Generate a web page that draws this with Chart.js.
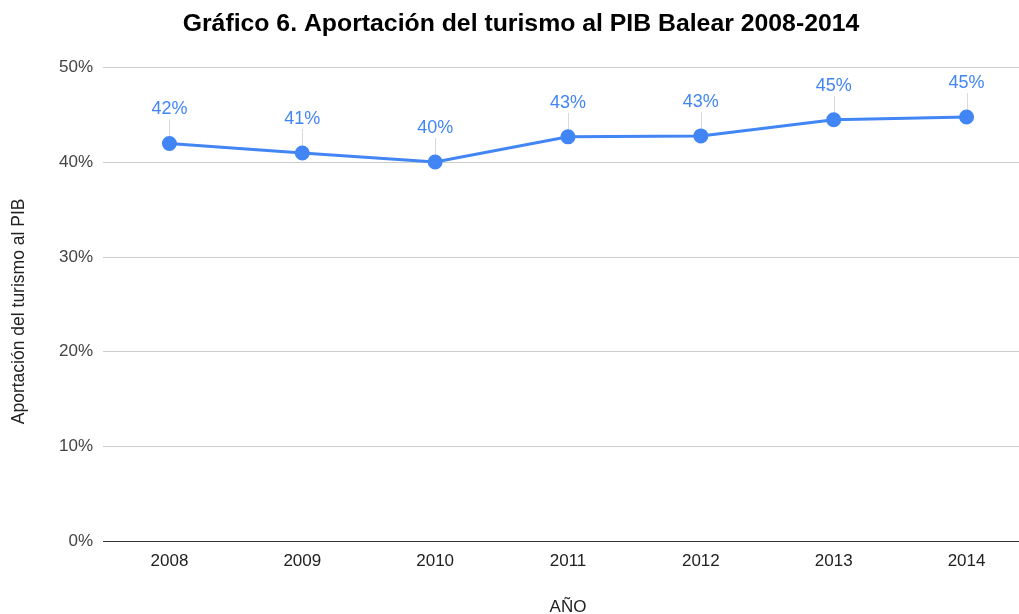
<!DOCTYPE html>
<html>
<head>
<meta charset="utf-8">
<script src="https://cdn.jsdelivr.net/npm/chart.js@4"></script>
<style>
html,body{margin:0;padding:0;overflow:hidden;background:#fff;}
#wrap{width:1042px;height:614px;}
</style>
</head>
<body>
<div id="wrap"><canvas id="c" width="1042" height="614"></canvas></div>
<script>
const years = ['2008','2009','2010','2011','2012','2013','2014'];
const aportacion = [42.0, 41.0, 40.05, 42.7, 42.8, 44.5, 44.8];
const yTicks = [0, 10, 20, 30, 40, 50];
const chartTitle = 'Gráfico 6. Aportación del turismo al PIB Balear 2008-2014';
const xTitle = 'AÑO';
const yTitle = 'Aportación del turismo al PIB';

const FONT = "'Liberation Sans', Arial, sans-serif";
const BLUE = '#4285F4';

const labelPlugin = {
  id: 'pointLabels',
  beforeDatasetsDraw(chart) {
    const ctx = chart.ctx;
    const meta = chart.getDatasetMeta(0);
    ctx.save();
    ctx.strokeStyle = '#d9d9d9';
    ctx.lineWidth = 1;
    meta.data.forEach(p => {
      ctx.beginPath();
      ctx.moveTo(Math.round(p.x) + 0.5, p.y - 24);
      ctx.lineTo(Math.round(p.x) + 0.5, p.y - 5);
      ctx.stroke();
    });
    ctx.restore();
  },
  afterDatasetsDraw(chart) {
    const ctx = chart.ctx;
    const meta = chart.getDatasetMeta(0);
    const data = chart.data.datasets[0].data;
    ctx.save();
    ctx.fillStyle = BLUE;
    ctx.font = "18px " + FONT;
    ctx.textAlign = 'center';
    ctx.textBaseline = 'middle';
    meta.data.forEach((p, i) => {
      ctx.fillText(Math.round(data[i]) + '%', p.x, p.y - 34);
    });
    ctx.restore();
  },
  afterDraw(chart) {
    const ctx = chart.ctx;
    const ca = chart.chartArea;
    ctx.save();
    ctx.fillStyle = '#222';
    ctx.font = "17.5px " + FONT;
    ctx.textAlign = 'center';
    ctx.textBaseline = 'middle';
    ctx.translate(19, (ca.top + ca.bottom) / 2 + 7);
    ctx.rotate(-Math.PI / 2);
    ctx.fillText(yTitle, 0, 0);
    ctx.restore();
  }
};

new Chart(document.getElementById('c'), {
  type: 'line',
  data: {
    labels: years,
    datasets: [{
      data: aportacion,
      borderColor: BLUE,
      backgroundColor: BLUE,
      borderWidth: 3,
      pointRadius: 6,
      pointHoverRadius: 6,
      pointBackgroundColor: BLUE,
      pointBorderColor: BLUE,
      tension: 0
    }]
  },
  options: {
    responsive: false,
    animation: false,
    layout: { padding: { left: 8, right: 8, top: 0, bottom: 0 } },
    plugins: {
      legend: { display: false },
      tooltip: { enabled: false },
      title: {
        display: true,
        text: chartTitle,
        color: '#000',
        font: { family: FONT, size: 24.8, weight: 'bold' },
        padding: { top: 9, bottom: 29 }
      }
    },
    scales: {
      x: {
        offset: true,
        grid: { display: false, drawTicks: false },
        border: { display: false },
        ticks: { color: '#222', font: { family: FONT, size: 17 }, padding: 10 },
        title: { display: true, text: xTitle, color: '#222', font: { family: FONT, size: 17 }, padding: { top: 0, bottom: -4 } },
        afterFit(s) { s.height = 73; }
      },
      y: {
        min: 0, max: 50,
        afterBuildTicks(s) { s.ticks = yTicks.map(v => ({ value: v })); },
        grid: {
          color: c => (c.tick && c.tick.value === 0) ? '#333' : '#ccc',
          lineWidth: 1,
          drawTicks: false
        },
        border: { display: false },
        ticks: { color: '#444', font: { family: FONT, size: 17 }, padding: 10, callback: v => v + '%' },
        afterFit(s) { s.width = 95; }
      }
    }
  },
  plugins: [labelPlugin]
});
</script>
</body>
</html>
